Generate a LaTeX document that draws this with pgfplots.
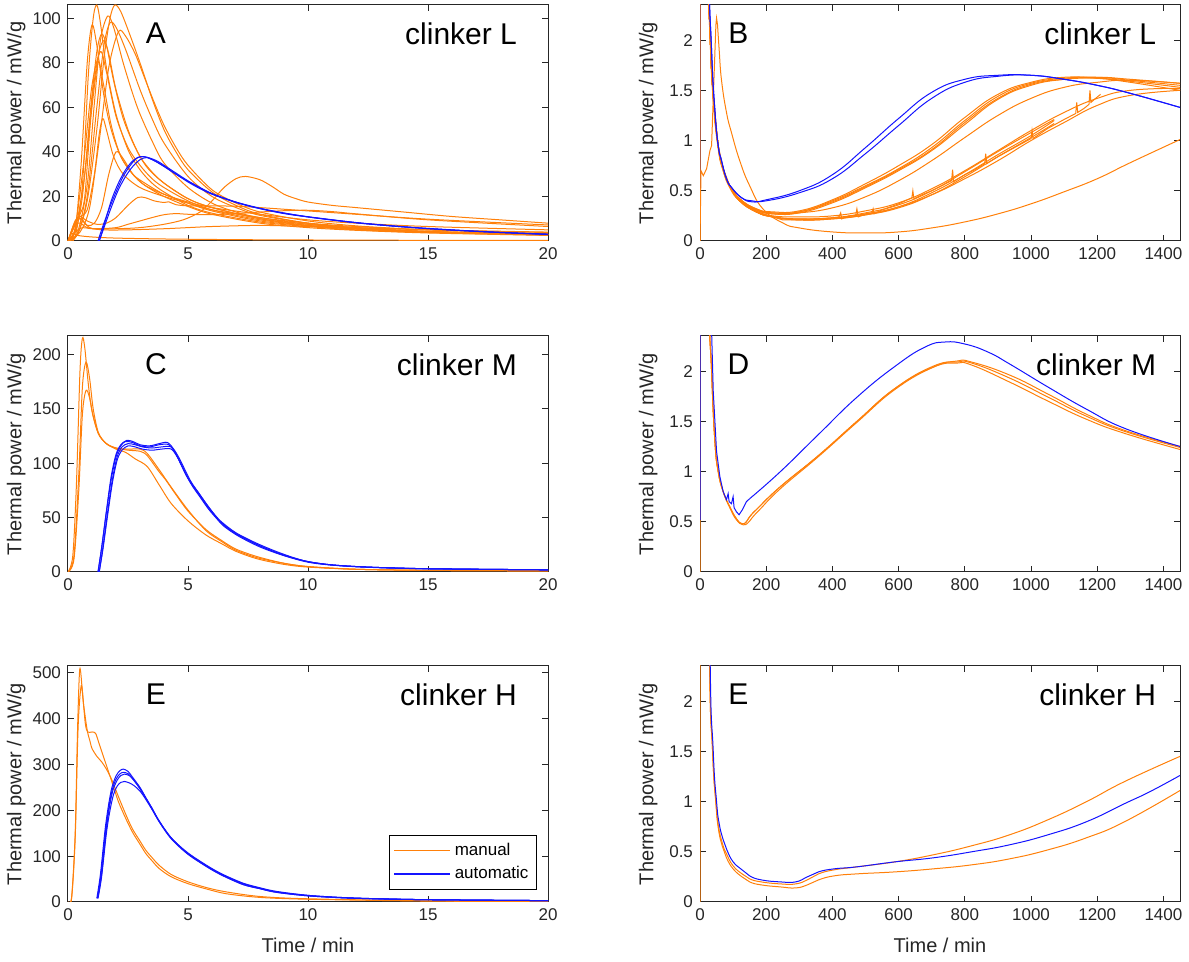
\documentclass[border=0pt]{standalone}
\usepackage{fontspec}
\setmainfont{Liberation Sans}
\usepackage{pgfplots}
\pgfplotsset{compat=1.18}
\definecolor{mo}{RGB}{255,128,10}
\definecolor{mb}{RGB}{20,20,255}
\definecolor{axgray}{RGB}{38,38,38}
\pgfplotsset{
 panel/.style={width=240pt,height=118pt,scale only axis,enlargelimits=false,clip=true,
  axis line style={draw=axgray,line width=0.5pt},
  every tick/.style={axgray,line width=0.5pt},
  tick align=inside, major tick length=3pt,
  tick label style={font=\fontsize{8.5}{10}\selectfont,text=axgray},
  label style={font=\fontsize{10}{12}\selectfont,text=axgray},
  ylabel={Thermal power / mW/g},
  ylabel style={at={(axis description cs:-0.108,0.5)},anchor=center},
  xlabel style={at={(axis description cs:0.5,-0.182)},anchor=center},
  /pgf/number format/1000 sep={},
  /pgf/number format/assume math mode=true},
 leftp/.style={xmin=0,xmax=20,xtick={0,5,10,15,20}},
 rightp/.style={xmin=0,xmax=1450,xtick={0,200,...,1400},ymin=0,ymax=2.35,ytick={0,0.5,1,1.5,2}},
 o/.style={mo,line width=0.5pt,smooth,tension=0.5,forget plot},
 b/.style={mb,line width=0.5pt,smooth,tension=0.5,forget plot},
 ro/.style={mo,line width=0.5pt,smooth,tension=0.8,forget plot},
 rb/.style={mb,line width=0.5pt,smooth,tension=0.8,forget plot},
 on/.style={mo,line width=0.5pt,forget plot},
 bn/.style={mb,line width=0.5pt,forget plot},
}
\newcommand{\lett}[1]{\node[font=\fontsize{15}{18}\selectfont,anchor=center] at (rel axis cs:0.183,0.88) {#1};}
\newcommand{\lettr}[1]{\node[font=\fontsize{15}{18}\selectfont,anchor=center] at (rel axis cs:0.08,0.88) {#1};}
\newcommand{\clk}[1]{\node[font=\fontsize{15}{18}\selectfont,anchor=east] at (rel axis cs:0.95,0.88) {#1};}
\newcommand{\clkr}[1]{\node[font=\fontsize{15}{18}\selectfont,anchor=east] at (rel axis cs:0.965,0.88) {#1};}
\begin{document}
\begin{tikzpicture}
\useasboundingbox (0,0) rectangle (594.5pt,481pt);
% ---------------- A
\begin{axis}[panel,leftp,at={(34pt,360.5pt)},anchor=south west,ymin=0,ymax=106,ytick={0,20,...,100}]
\addplot[o] coordinates {(0,0)(0.3,2)(0.6,25)(0.85,75)(1.05,100)(1.2,106)(1.35,98)(1.6,78)(2,57)(2.5,41)(3,32)(3.5,26)(4,22)(5,16)(6,12.5)(8,8.5)(10,6.5)(12,5)(15,3.8)(20,2.6)};
\addplot[o] coordinates {(0,0)(0.4,3)(0.8,18)(1.2,50)(1.5,82)(1.75,100)(1.95,106)(2.2,103)(2.6,92)(3,80)(3.5,64)(4,50)(4.5,40)(5,32)(6,22)(7,16)(8,12)(10,8)(12,6)(15,4.3)(20,3)};
\addplot[o] coordinates {(0,0)(0.4,4)(0.8,25)(1.1,62)(1.35,90)(1.65,101)(1.9,96)(2.3,80)(2.7,66)(3,57)(3.5,45)(4,35)(5,24)(6,17)(7,13)(8,10.5)(10,7.5)(12,5.8)(15,4.2)(20,2.8)};
\addplot[o] coordinates {(0,0)(0.3,5)(0.55,35)(0.8,80)(1.0,97)(1.2,88)(1.5,65)(1.8,50)(2.2,38)(2.7,30)(3.2,25)(4,20)(5,15.5)(6,12)(8,8)(10,6)(12,4.8)(15,3.6)(20,2.5)};
\addplot[o] coordinates {(0,0)(0.4,3)(0.8,20)(1.2,60)(1.5,88)(1.75,98)(2.0,96)(2.4,86)(3,68)(3.5,55)(4,44)(5,29)(6,20)(7,15)(8,11.5)(10,8)(12,6)(15,4.3)(20,3)};
\addplot[o] coordinates {(0,0)(0.5,4)(0.9,15)(1.3,45)(1.7,78)(2.1,94)(2.4,92)(2.8,84)(3.2,73)(3.6,62)(4,52)(4.5,42)(5,34)(6,23)(7,17)(8,13)(10,9)(12,6.8)(15,5)(20,3.3)};
\addplot[o] coordinates {(0,0)(0.3,4)(0.6,20)(0.95,60)(1.2,85)(1.4,93)(1.6,88)(1.9,72)(2.3,55)(2.8,42)(3.3,33)(4,26)(5,19)(6,15)(8,10)(10,7.5)(12,5.8)(15,4.2)(20,3)};
\addplot[o] coordinates {(0,0)(0.3,5)(0.7,30)(1.05,68)(1.3,85)(1.5,90)(1.7,84)(2,68)(2.5,50)(3,38)(3.5,31)(4,26)(5,19)(6,15)(8,10)(10,7)(12,5.5)(15,4)(20,2.8)};
\addplot[o] coordinates {(0,0)(0.3,6)(0.65,35)(1.0,70)(1.35,85)(1.6,76)(2,56)(2.5,42)(3,34)(3.5,28)(4,24)(5,18)(6,14)(8,9.5)(10,7)(12,5.5)(15,4)(20,2.8)};
\addplot[o] coordinates {(0,0)(0.3,8)(0.5,12)(0.7,20)(0.95,55)(1.25,80)(1.45,72)(1.8,52)(2.2,38)(2.7,30)(3.2,26)(4,21)(5,17)(6,13.5)(8,9)(10,6.8)(12,5.3)(15,4)(20,2.8)};
\addplot[o] coordinates {(0,0)(0.3,8)(0.5,11)(0.8,14)(1.1,30)(1.3,48)(1.45,55)(1.6,50)(1.9,38)(2.3,30)(3,24)(4,20)(5,17)(6,14)(8,10.5)(10,8)(12,6.5)(15,5)(20,3.8)};
\addplot[o] coordinates {(0,0)(0.3,8)(0.5,10)(0.8,7)(1.1,8)(1.4,15)(1.7,30)(2.0,40)(2.3,37)(2.7,30)(3.2,25)(4,21)(5,17.5)(6,15)(8,12)(10,9.5)(12,8)(15,6.5)(20,5)};
\addplot[o] coordinates {(0,0)(0.3,9)(0.5,11)(0.8,9)(1.2,7.5)(1.6,8)(2,10.5)(2.5,16)(2.9,19.5)(3.2,19.5)(3.6,18)(4,17.3)(4.2,17.6)(4.5,16.3)(5,15.8)(6,15.8)(7,15.6)(8,15)(10,13.5)(12,12)(15,9.8)(20,7.2)};
\addplot[o] coordinates {(0,0)(0.3,7)(0.5,8)(0.8,6)(1.2,5.5)(2,6)(2.5,7.5)(3,9)(3.5,10.5)(4,11.8)(4.5,12.3)(5,12)(6,11.8)(7,12.3)(8,13)(9,13.6)(10,13.8)(11,13.2)(12,12.2)(15,9.5)(20,6.5)};
\addplot[o] coordinates {(0,0)(0.3,4)(0.6,6)(1,5.5)(2,5.5)(3,6)(4,7.5)(4.8,9.5)(5.5,13)(6,18)(6.5,24)(7,28)(7.4,29)(8,27.5)(8.5,24.5)(9,21)(9.5,19)(10,17.5)(11,16)(12,15)(14,13)(16,11)(18,9.5)(20,8)};
\addplot[o] coordinates {(0,0)(0.15,3.5)(0.4,2.5)(1,1.8)(2,1.3)(4,0.9)(7,0.6)(10,0.45)(15,0.3)(20,0.25)};
\addplot[o] coordinates {(0,0)(0.3,9)(0.55,10)(0.9,6)(1.5,5)(2.5,5)(4,5.5)(5,6)(6,6.5)(8,7)(10,6.5)(12,6)(15,5)(20,4)};
\addplot[b] coordinates {(1.25,0)(1.4,5)(1.7,14)(2.0,22)(2.3,29)(2.6,34)(2.9,37.5)(3.2,37.8)(3.6,36)(4,33.5)(4.5,30)(5,26.5)(5.5,23.5)(6,21)(7,17.3)(8,14.5)(9,12.3)(10,10.8)(12,8.2)(14,6.3)(16,4.9)(18,3.8)(20,3)};
\addplot[b] coordinates {(1.3,0)(1.5,6)(1.8,15)(2.1,23)(2.4,29)(2.7,33.5)(3.0,36.5)(3.3,37.5)(3.7,36)(4,34)(4.5,30.5)(5,27)(5.5,24)(6,21.3)(7,17.5)(8,14.7)(9,12.5)(10,10.9)(12,8.3)(14,6.4)(16,5)(18,3.9)(20,3.1)};
\addplot[b] coordinates {(1.3,0)(1.5,7)(1.8,18)(2.1,26)(2.4,32)(2.7,36)(3.0,37.8)(3.3,37.6)(3.7,35.5)(4,33.5)(4.5,30)(5,26.8)(6,21.2)(7,17.4)(8,14.6)(10,10.8)(12,8.2)(14,6.3)(16,4.9)(18,3.8)(20,2.9)};
\lett{A}\clk{clinker L}
\end{axis}
% ---------------- B
\begin{axis}[panel,rightp,at={(350pt,360.5pt)},anchor=south west]
\addplot[bn] coordinates {(0,0.18)(0.5,3)};
\addplot[on] coordinates {(0,0)(0.5,3)};
\addplot[ro] coordinates {(10,6)(20,3.2)(30,2.1)(40,1.45)(55,0.95)(70,0.72)(90,0.55)(120,0.42)(170,0.32)(220,0.28)(300,0.29)(400,0.4)(500,0.55)(600,0.72)(700,0.93)(800,1.2)(900,1.44)(1000,1.57)(1100,1.62)(1200,1.63)(1300,1.6)(1450,1.55)};
\addplot[ro] coordinates {(10,6)(20,3.1)(30,2.05)(40,1.4)(55,0.92)(70,0.7)(90,0.53)(120,0.4)(170,0.31)(220,0.27)(300,0.28)(400,0.38)(500,0.53)(600,0.7)(700,0.9)(800,1.16)(900,1.41)(1000,1.55)(1100,1.61)(1200,1.63)(1300,1.61)(1450,1.57)};
\addplot[ro] coordinates {(10,6)(20,3.2)(30,2.1)(40,1.45)(55,0.95)(70,0.72)(90,0.55)(120,0.42)(170,0.32)(220,0.29)(300,0.3)(400,0.41)(500,0.57)(600,0.75)(700,0.96)(800,1.23)(900,1.46)(1000,1.58)(1100,1.63)(1200,1.62)(1300,1.58)(1450,1.5)};
\addplot[ro] coordinates {(10,6)(20,3.2)(30,2.1)(40,1.42)(55,0.93)(70,0.7)(90,0.54)(120,0.41)(170,0.31)(220,0.28)(300,0.29)(400,0.39)(500,0.54)(600,0.71)(700,0.91)(800,1.18)(900,1.42)(1000,1.56)(1100,1.61)(1200,1.62)(1300,1.59)(1450,1.53)};
\addplot[ro] coordinates {(10,6)(20,3.2)(30,2.1)(40,1.45)(55,0.95)(70,0.72)(90,0.55)(120,0.42)(170,0.31)(220,0.27)(300,0.28)(400,0.33)(500,0.44)(600,0.6)(700,0.8)(800,1.03)(900,1.25)(1000,1.42)(1100,1.53)(1200,1.58)(1300,1.6)(1450,1.57)};
\addplot[ro] coordinates {(10,6)(20,3.2)(30,2.1)(40,1.45)(55,0.95)(70,0.72)(90,0.55)(120,0.4)(170,0.3)(220,0.25)(300,0.24)(400,0.25)(500,0.3)(600,0.38)(700,0.52)(800,0.7)(900,0.9)(1000,1.1)(1100,1.28)(1200,1.42)(1300,1.5)(1450,1.52)};
\addplot[ro] coordinates {(10,6)(20,3.2)(30,2.1)(40,1.45)(55,0.95)(70,0.72)(90,0.55)(120,0.4)(170,0.29)(220,0.24)(300,0.22)(400,0.23)(500,0.27)(600,0.34)(700,0.46)(800,0.62)(900,0.8)(1000,1.0)(1100,1.18)(1200,1.35)(1300,1.45)(1450,1.5)};
\addplot[on] coordinates {(20,3.2)(30,2.1)(40,1.45)(55,0.95)(70,0.72)(90,0.55)(120,0.4)(170,0.29)(220,0.24)(250,0.21)(300,0.21)(350,0.22)(400,0.23)(420,0.24)(425,0.28)(428,0.22)(450,0.25)(470,0.25)(474,0.32)(478,0.24)(500,0.27)(520,0.28)(523,0.32)(526,0.27)(550,0.31)(575,0.34)(600,0.37)(640,0.43)(643,0.5)(646,0.42)(670,0.46)(700,0.5)(730,0.55)(760,0.6)(763,0.71)(766,0.59)(800,0.66)(830,0.71)(860,0.77)(863,0.87)(866,0.77)(900,0.84)(950,0.93)(1000,1.02)(1003,1.1)(1006,1.02)(1050,1.12)(1100,1.21)(1135,1.27)(1138,1.38)(1141,1.28)(1160,1.32)(1175,1.36)(1178,1.5)(1181,1.38)(1195,1.42)(1210,1.46)};
\addplot[ro] coordinates {(10,6)(20,3.2)(30,2.1)(40,1.45)(55,0.95)(70,0.72)(90,0.55)(120,0.4)(170,0.29)(220,0.24)(300,0.21)(400,0.22)(500,0.26)(600,0.34)(700,0.48)(800,0.66)(900,0.86)(1000,1.05)(1070,1.2)};
\addplot[ro] coordinates {(10,6)(20,3.2)(30,2.1)(40,1.45)(55,0.95)(70,0.72)(90,0.55)(120,0.4)(170,0.29)(220,0.24)(300,0.22)(400,0.23)(500,0.28)(600,0.36)(700,0.5)(800,0.69)(900,0.89)(1000,1.08)(1070,1.21)};
\addplot[ro] coordinates {(10,6)(20,3.2)(30,2.1)(40,1.45)(55,0.95)(70,0.72)(90,0.55)(120,0.4)(170,0.29)(220,0.24)(300,0.21)(400,0.22)(500,0.26)(600,0.33)(700,0.46)(800,0.64)(900,0.84)(1000,1.03)(1070,1.17)};
\addplot[on] coordinates {(0,0)(3,0.7)(10,0.65)(20,0.72)(30,0.9)(35,0.95)(42,1.6)(48,2.15)(50,2.22)(53,2.15)};
\addplot[ro] coordinates {(53,2.15)(58,1.9)(65,1.6)(80,1.28)(95,1.08)(120,0.8)(150,0.55)(190,0.32)(250,0.18)(300,0.13)(400,0.09)(500,0.08)(600,0.09)(700,0.13)(800,0.19)(900,0.27)(1000,0.37)(1100,0.49)(1200,0.62)(1300,0.78)(1450,1.01)};
\addplot[rb] coordinates {(15,6)(25,3)(35,1.9)(45,1.3)(55,0.95)(65,0.8)(80,0.62)(96,0.53)(126,0.43)(157,0.39)(200,0.41)(300,0.5)(400,0.66)(500,0.93)(600,1.22)(700,1.48)(800,1.61)(900,1.65)(1000,1.65)(1100,1.61)(1200,1.55)(1300,1.47)(1450,1.33)};
\addplot[rb] coordinates {(15,6)(25,3)(35,1.9)(45,1.3)(55,0.95)(65,0.8)(80,0.62)(96,0.53)(126,0.43)(157,0.4)(200,0.4)(300,0.48)(400,0.62)(500,0.87)(600,1.15)(700,1.42)(800,1.58)(900,1.64)(1000,1.65)(1100,1.61)(1200,1.55)(1300,1.47)(1450,1.33)};
\lettr{B}\clkr{clinker L}
\end{axis}
% ---------------- C
\begin{axis}[panel,leftp,at={(34pt,195pt)},anchor=south west,ymin=0,ymax=217,ytick={0,50,...,200}]
\addplot[o] coordinates {(0,0)(0.2,15)(0.35,80)(0.5,185)(0.6,215)(0.7,206)(0.85,172)(1.0,148)(1.27,127)(1.6,118)(2.0,114)(2.5,112)(3.0,111)(3.3,107)(3.8,92)(4.06,85)(4.5,71)(5,56)(5.75,39)(6.4,29)(7,21)(7.9,14)(9,8)(10,5)(12,2.5)(15,1.5)(20,1)};
\addplot[o] coordinates {(0,0)(0.25,15)(0.45,90)(0.6,170)(0.75,193)(0.9,178)(1.05,150)(1.27,128)(1.6,118)(2.0,114)(2.5,113)(3.0,113)(3.3,109)(3.8,94)(4.3,78)(5,57)(5.75,38)(6.4,28)(7,20)(7.9,13)(9,8)(10,5)(12,2.5)(15,1.5)(20,1)};
\addplot[o] coordinates {(0,0)(0.25,12)(0.45,75)(0.6,145)(0.75,167)(0.9,160)(1.05,143)(1.27,127)(1.6,118)(2.0,113)(2.4,110)(2.8,104)(3.3,97)(3.8,80)(4.3,63)(5,47)(5.75,34)(6.4,26)(7,19)(7.9,12)(9,7)(10,4.5)(12,2.5)(15,1.5)(20,1)};
\addplot[b] coordinates {(1.25,0)(1.4,22)(1.6,55)(1.8,85)(2.0,106)(2.2,116)(2.4,120)(2.7,119)(3.0,116)(3.4,115)(3.8,117)(4.2,117)(4.5,108)(5,86)(5.4,73)(5.75,62)(6.1,52)(6.4,45)(7,35)(7.9,25)(8.9,16)(9.9,10)(11,6.5)(12.5,4.5)(15,3)(20,2)};
\addplot[b] coordinates {(1.3,0)(1.45,22)(1.65,55)(1.85,85)(2.05,106)(2.25,115)(2.5,118)(2.8,117)(3.1,115)(3.5,114)(3.9,115)(4.3,115)(4.6,106)(5.1,84)(5.5,71)(5.85,60)(6.2,50)(6.5,43)(7.1,34)(8,24)(9,15.5)(10,9.5)(11,6.5)(12.5,4.5)(15,3)(20,2)};
\addplot[b] coordinates {(1.25,0)(1.4,22)(1.6,56)(1.8,88)(2.0,108)(2.2,117)(2.45,121)(2.7,120)(3.0,117)(3.4,116)(3.8,118)(4.15,119)(4.45,111)(4.95,88)(5.4,74)(5.75,63)(6.1,53)(6.4,46)(7,36)(7.9,26)(8.9,17)(9.9,10)(11,6.5)(12.5,4.5)(15,3)(20,2)};
\addplot[b] coordinates {(1.3,0)(1.45,20)(1.65,52)(1.85,82)(2.05,103)(2.25,112)(2.5,116)(2.8,115)(3.1,113)(3.5,112)(3.9,113)(4.3,113)(4.6,104)(5.1,82)(5.5,69)(5.85,58)(6.2,49)(6.5,42)(7.1,33)(8,23)(9,15)(10,9)(11,6.3)(12.5,4.3)(15,2.9)(20,2)};
\lett{C}\clk{clinker M}
\end{axis}
% ---------------- D
\begin{axis}[panel,rightp,at={(350pt,195pt)},anchor=south west]
\addplot[on] coordinates {(0,0)(0.5,3)};
\addplot[bn] coordinates {(0,0.52)(0.5,3)};
\addplot[ro] coordinates {(15,6)(25,3)(35,2.0)(45,1.3)(55,1.0)(70,0.8)(90,0.65)(110,0.53)(127,0.48)(140,0.5)(150,0.55)(173,0.63)(243,0.85)(358,1.16)(474,1.5)(590,1.83)(705,2.05)(775,2.09)(821,2.08)(936,1.93)(1052,1.74)(1168,1.55)(1283,1.4)(1450,1.24)};
\addplot[ro] coordinates {(15,6)(25,3)(35,2.0)(45,1.3)(55,1.0)(70,0.8)(90,0.64)(110,0.52)(130,0.47)(145,0.49)(160,0.55)(180,0.62)(243,0.83)(358,1.15)(474,1.49)(590,1.82)(705,2.04)(775,2.1)(821,2.09)(936,1.96)(1052,1.77)(1168,1.57)(1283,1.41)(1450,1.25)};
\addplot[ro] coordinates {(15,6)(25,3)(35,2.0)(45,1.3)(55,1.0)(70,0.8)(90,0.65)(110,0.53)(127,0.48)(140,0.5)(150,0.55)(173,0.63)(243,0.85)(358,1.16)(474,1.5)(590,1.83)(705,2.04)(775,2.08)(821,2.06)(936,1.89)(1052,1.7)(1168,1.52)(1283,1.38)(1450,1.22)};
\addplot[bn] coordinates {(20,6)(30,3)(40,1.8)(50,1.2)(60,0.95)(70,0.8)(80,0.72)(85,0.78)(88,0.7)(95,0.68)(100,0.75)(103,0.64)(110,0.6)(118,0.57)(128,0.62)(140,0.7)(150,0.73)};
\addplot[rb] coordinates {(150,0.73)(243,1.0)(358,1.37)(474,1.74)(590,2.05)(680,2.24)(740,2.29)(800,2.27)(870,2.19)(936,2.07)(1052,1.84)(1168,1.62)(1283,1.43)(1450,1.25)};
\lettr{D}\clkr{clinker M}
\end{axis}
% ---------------- E (left)
\begin{axis}[panel,leftp,at={(34pt,30pt)},anchor=south west,ymin=0,ymax=515,ytick={0,100,...,500},xlabel={Time / min},
 legend style={at={(0.977,0.05)},anchor=south east,draw=black,line width=0.5pt,font=\fontsize{8.5}{10}\selectfont,inner sep=2pt,row sep=0pt,legend cell align=left},
 legend image code/.code={\draw[#1] (0pt,0pt) -- (28pt,0pt);}]
\addlegendimage{mo,line width=0.6pt}\addlegendentry{manual}
\addlegendimage{mb,line width=0.6pt}\addlegendentry{automatic}
\addplot[o] coordinates {(0,0)(0.15,10)(0.3,150)(0.4,380)(0.49,508)(0.6,460)(0.72,390)(0.82,371)(1.0,371)(1.15,368)(1.3,345)(1.55,306)(1.83,262)(2.1,219)(2.4,183)(2.68,153)(3.0,126)(3.24,106)(3.5,90)(3.8,73)(4.3,55)(5,40)(5.8,28)(6.6,18)(8,10)(10,6)(15,2)(20,1)};
\addplot[o] coordinates {(0,0)(0.15,8)(0.3,140)(0.42,380)(0.55,472)(0.65,430)(0.8,375)(0.92,350)(1.0,335)(1.2,318)(1.4,306)(1.6,290)(1.83,266)(2.1,230)(2.4,192)(2.68,160)(3.0,133)(3.24,113)(3.5,97)(3.8,80)(4.3,60)(5,44)(5.8,31)(6.6,22)(8,12)(10,7)(15,2.5)(20,1.2)};
\addplot[b] coordinates {(1.2,8)(1.35,60)(1.55,160)(1.7,215)(1.83,250)(2.0,275)(2.15,286)(2.3,290)(2.5,285)(2.68,273)(3.0,250)(3.24,228)(3.5,205)(3.8,177)(4.3,140)(5,105)(5.9,74)(6.5,57)(7.3,38)(8,29)(8.7,21)(10.1,13)(12,8)(15,5)(20,3)};
\addplot[b] coordinates {(1.22,8)(1.37,58)(1.57,158)(1.72,212)(1.85,246)(2.0,268)(2.15,279)(2.3,283)(2.5,280)(2.68,270)(3.0,248)(3.24,227)(3.5,204)(3.8,176)(4.3,139)(5,106)(5.9,75)(6.5,58)(7.3,40)(8,30)(8.7,22)(10.1,14)(12,8.5)(15,5)(20,3)};
\addplot[b] coordinates {(1.24,8)(1.4,60)(1.6,160)(1.75,214)(1.88,245)(2.05,266)(2.2,276)(2.35,279)(2.55,276)(2.72,267)(3.0,247)(3.24,226)(3.5,203)(3.8,175)(4.3,138)(5,104)(5.9,73)(6.5,56)(7.3,38)(8,29)(8.7,21)(10.1,13)(12,8)(15,5)(20,3)};
\addplot[b] coordinates {(1.25,8)(1.4,55)(1.6,150)(1.75,200)(1.9,235)(2.05,253)(2.2,261)(2.35,263)(2.55,260)(2.75,254)(3.0,242)(3.24,224)(3.5,202)(3.8,176)(4.3,140)(5,107)(5.9,76)(6.5,59)(7.3,41)(8,31)(8.7,23)(10.1,14)(12,8.5)(15,5)(20,3)};
\lett{E}\clk{clinker H}
\end{axis}
% ---------------- E (right)
\begin{axis}[panel,rightp,at={(350pt,30pt)},anchor=south west,xlabel={Time / min}]
\addplot[on] coordinates {(0,0)(0.5,3)};
\addplot[ro] coordinates {(22,6)(28,2.6)(38,1.5)(48,1.0)(56,0.75)(68,0.58)(80,0.48)(100,0.36)(127,0.28)(150,0.23)(185,0.2)(243,0.18)(289,0.18)(324,0.22)(358,0.28)(405,0.32)(474,0.35)(590,0.4)(705,0.47)(821,0.56)(936,0.67)(1052,0.82)(1168,1.0)(1283,1.2)(1450,1.45)};
\addplot[ro] coordinates {(22,6)(28,2.6)(38,1.5)(48,0.98)(56,0.72)(68,0.55)(80,0.44)(100,0.33)(127,0.25)(150,0.2)(185,0.17)(243,0.15)(289,0.14)(324,0.17)(358,0.22)(405,0.26)(474,0.28)(590,0.3)(705,0.33)(821,0.37)(936,0.43)(1052,0.52)(1168,0.64)(1283,0.8)(1450,1.11)};
\addplot[rb] coordinates {(25,6)(30,2.6)(40,1.5)(50,1.0)(58,0.78)(70,0.62)(81,0.52)(100,0.4)(127,0.32)(150,0.26)(185,0.22)(243,0.2)(289,0.2)(324,0.25)(358,0.3)(405,0.33)(474,0.35)(590,0.4)(705,0.44)(821,0.5)(936,0.57)(1052,0.67)(1168,0.8)(1283,0.98)(1360,1.1)(1450,1.26)};
\lettr{E}\clkr{clinker H}
\end{axis}
\end{tikzpicture}
\end{document}
